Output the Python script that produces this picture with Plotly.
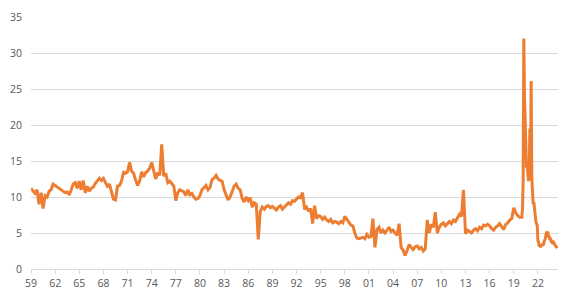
import pandas as pd
import plotly.graph_objects as go

# Quarterly readings 1959Q1 .. 2019Q4 (percent)
quarterly_values = [
    11.2, 10.8, 10.5, 11.0,   # 1959
    9.0, 10.6, 8.4, 10.2,     # 1960
    10.0, 10.8, 11.0, 11.8,   # 1961
    11.6, 11.5, 11.3, 11.0,   # 1962
    10.8, 10.6, 10.7, 10.3,   # 1963
    11.0, 11.8, 12.0, 11.2,   # 1964
    12.2, 11.0, 12.3, 10.6,   # 1965
    11.5, 10.8, 11.2, 11.4,   # 1966
    11.9, 12.3, 12.6, 12.3,   # 1967
    12.6, 12.0, 11.5, 11.8,   # 1968
    10.9, 9.7, 9.6, 11.5,     # 1969
    11.6, 12.2, 13.4, 13.3,   # 1970
    13.5, 14.8, 13.6, 13.3,   # 1971
    12.4, 11.6, 12.2, 13.5,   # 1972
    12.8, 13.4, 13.6, 14.0,   # 1973
    14.8, 13.6, 12.5, 13.4,   # 1974
    13.0, 17.3, 12.9, 13.3,   # 1975
    12.0, 12.2, 11.8, 11.5,   # 1976
    9.5, 10.6, 11.0, 10.8,    # 1977
    10.7, 10.2, 11.0, 10.3,   # 1978
    10.5, 10.0, 9.7, 9.8,     # 1979
    10.2, 11.0, 11.3, 11.6,   # 1980
    11.0, 11.3, 12.4, 12.6,   # 1981
    13.0, 12.5, 12.3, 12.2,   # 1982
    11.0, 10.4, 9.6, 10.0,    # 1983
    10.8, 11.5, 11.8, 11.2,   # 1984
    11.0, 9.8, 9.3, 10.0,     # 1985
    9.5, 9.9, 8.6, 9.2,       # 1986
    9.0, 4.1, 8.0, 8.6,       # 1987
    8.3, 8.7, 8.8, 8.5,       # 1988
    8.7, 8.4, 8.2, 8.6,       # 1989
    8.8, 8.3, 8.6, 8.9,       # 1990
    9.2, 9.0, 9.5, 9.4,       # 1991
    9.7, 10.0, 9.9, 10.6,     # 1992
    8.3, 8.6, 8.0, 8.4,       # 1993
    6.3, 8.8, 7.0, 7.4,       # 1994
    7.3, 6.9, 7.2, 6.8,       # 1995
    6.6, 6.9, 6.4, 6.6,       # 1996
    6.5, 6.3, 6.6, 6.4,       # 1997
    7.3, 6.8, 6.5, 6.1,       # 1998
    6.0, 5.0, 4.3, 4.2,       # 1999
    4.3, 4.4, 4.2, 4.8,       # 2000
    4.4, 4.5, 7.0, 3.0,       # 2001
    5.5, 5.8, 5.0, 5.4,       # 2002
    5.0, 5.4, 5.8, 5.2,       # 2003
    5.4, 5.0, 4.7, 6.3,       # 2004
    3.0, 2.6, 1.9, 2.6,       # 2005
    3.4, 3.0, 2.7, 3.1,       # 2006
    3.2, 2.8, 3.0, 2.5,       # 2007
    2.8, 6.8, 5.0, 6.2,       # 2008
    5.8, 7.9, 5.0, 5.8,       # 2009
    6.2, 6.4, 6.0, 6.3,       # 2010
    6.6, 6.3, 6.8, 6.6,       # 2011
    7.2, 7.6, 7.3, 11.0,      # 2012
    4.9, 5.4, 5.2, 5.0,       # 2013
    5.4, 5.6, 5.3, 5.8,       # 2014
    5.6, 6.1, 6.0, 6.2,       # 2015
    6.0, 5.6, 5.4, 5.8,       # 2016
    6.0, 6.3, 5.9, 5.5,       # 2017
    6.2, 6.4, 6.8, 7.0,       # 2018
    8.5, 7.8, 7.4, 7.2,       # 2019
]

# Monthly readings 2020-01 .. 2024-06 (percent)
monthly_values = [
    7.2, 8.3, 12.0, 32.0, 24.0, 18.0, 17.5, 14.0, 14.5, 13.3, 12.2, 13.0,  # 2020
    19.5, 13.4, 26.1, 12.5, 10.5, 9.0, 9.3, 8.1, 7.2, 6.6, 6.3, 6.0,       # 2021
    3.9, 3.8, 3.1, 3.3, 3.0, 3.4, 3.3, 3.4, 3.3, 3.8, 4.0, 4.2,            # 2022
    5.1, 5.2, 5.0, 5.0, 4.4, 4.6, 4.0, 4.3, 3.8, 3.7, 3.9, 3.6,            # 2023
    3.6, 3.4, 3.3, 3.1, 3.0, 2.9,                                          # 2024
]

tick_years = list(range(1959, 2023, 3))
tick_labels = [f"{y % 100:02d}" for y in tick_years]
y_ticks = [0, 5, 10, 15, 20, 25, 30, 35]

q_dates = pd.date_range("1959-01-01", periods=len(quarterly_values), freq="QS")
m_dates = pd.date_range("2020-01-01", periods=len(monthly_values), freq="MS")
dates = list(q_dates) + list(m_dates)
values = quarterly_values + monthly_values

fig = go.Figure()
fig.add_trace(go.Scatter(
    x=dates, y=values, mode="lines",
    line=dict(color="#ED7D31", width=3),
    showlegend=False,
))

font_color = "#595959"
fig.update_layout(
    width=568, height=300,
    margin=dict(l=31, r=10, t=14, b=27),
    paper_bgcolor="white", plot_bgcolor="white",
    font=dict(family="Open Sans, Liberation Sans, sans-serif", size=10.5, color=font_color),
)
fig.update_xaxes(
    type="date",
    range=[pd.Timestamp("1959-01-01"), pd.Timestamp("2024-07-01")],
    tickvals=[pd.Timestamp(f"{y}-01-01") for y in tick_years],
    ticktext=tick_labels,
    showgrid=False,
    showline=True, linecolor="#D9D9D9", linewidth=1,
    ticks="outside", ticklen=4, tickcolor="#D9D9D9",
    zeroline=False,
)
fig.update_yaxes(
    range=[0, 35],
    tickvals=y_ticks,
    showgrid=True, gridcolor="#D9D9D9", gridwidth=1,
    zeroline=False, showline=False,
    ticks="", ticklabelstandoff=8,
)

fig.write_html("out.html")
